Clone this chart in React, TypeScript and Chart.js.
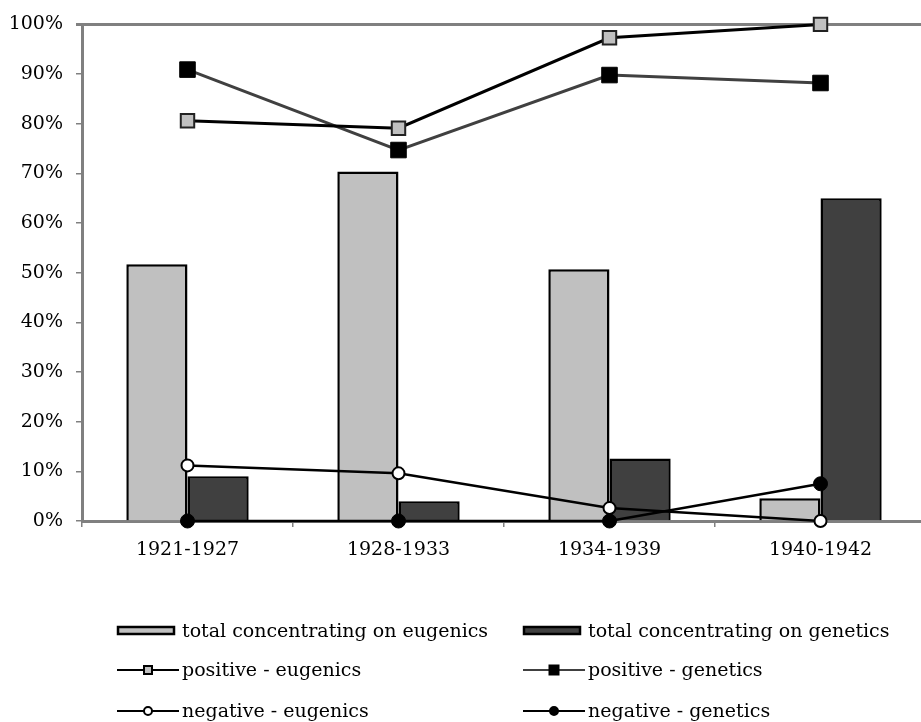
import React, { useEffect, useRef } from "react";
import { Chart, registerables } from "chart.js";

Chart.register(...registerables);

const categories = ["1921-1927", "1928-1933", "1934-1939", "1940-1942"];
const totalEugenics = [51.7, 70.4, 50.7, 4.6];
const totalGenetics = [9.0, 4.0, 12.6, 65.0];
const positiveEugenics = [80.6, 79.1, 97.3, 100];
const positiveGenetics = [90.9, 74.7, 89.8, 88.2];
const negativeEugenics = [11.2, 9.6, 2.6, 0];
const negativeGenetics = [0, 0, 0, 7.5];

const FONT = "'DejaVu Serif', serif";
const AXIS_GRAY = "#808080";
const LIGHT = "#C0C0C0";
const DARK = "#404040";

type LegendItem = {
  label: string;
  kind: "bar" | "line";
  fill: string;
  line?: string;
  marker?: "rect" | "circle";
  markerFill?: string;
  markerSize?: number;
  col: number;
  row: number;
};

const legendItems: LegendItem[] = [
  { label: "total concentrating on eugenics", kind: "bar", fill: LIGHT, col: 0, row: 0 },
  { label: "total concentrating on genetics", kind: "bar", fill: DARK, col: 1, row: 0 },
  { label: "positive - eugenics", kind: "line", fill: LIGHT, line: "#000", marker: "rect", markerFill: LIGHT, markerSize: 8, col: 0, row: 1 },
  { label: "positive - genetics", kind: "line", fill: "#000", line: DARK, marker: "rect", markerFill: "#000", markerSize: 9, col: 1, row: 1 },
  { label: "negative - eugenics", kind: "line", fill: "#fff", line: "#000", marker: "circle", markerFill: "#fff", markerSize: 4, col: 0, row: 2 },
  { label: "negative - genetics", kind: "line", fill: "#000", line: "#000", marker: "circle", markerFill: "#000", markerSize: 4, col: 1, row: 2 },
];

const legendPlugin = {
  id: "customLegend",
  afterDraw(chart: any) {
    const ctx = chart.ctx as CanvasRenderingContext2D;
    const colX = [117, 523];
    const rowY = [631, 670, 711];
    ctx.save();
    ctx.font = `19px ${FONT}`;
    ctx.textBaseline = "middle";
    ctx.textAlign = "left";
    for (const it of legendItems) {
      const x0 = colX[it.col];
      const y = rowY[it.row];
      if (it.kind === "bar") {
        ctx.fillStyle = it.fill;
        ctx.strokeStyle = "#000";
        ctx.lineWidth = 2.5;
        ctx.fillRect(x0 + 1, y - 4, 56, 7);
        ctx.strokeRect(x0 + 1, y - 4, 56, 7);
      } else {
        ctx.strokeStyle = it.line!;
        ctx.lineWidth = 2;
        ctx.beginPath();
        ctx.moveTo(x0, y);
        ctx.lineTo(x0 + 62, y);
        ctx.stroke();
        const cx = x0 + 31;
        ctx.fillStyle = it.markerFill!;
        ctx.strokeStyle = "#000";
        ctx.lineWidth = 2;
        if (it.marker === "rect") {
          const s = it.markerSize!;
          ctx.fillRect(cx - s / 2, y - s / 2, s, s);
          ctx.strokeRect(cx - s / 2, y - s / 2, s, s);
        } else {
          ctx.beginPath();
          ctx.arc(cx, y, it.markerSize!, 0, Math.PI * 2);
          ctx.fill();
          ctx.stroke();
        }
      }
      ctx.fillStyle = "#000";
      ctx.fillText(it.label, x0 + 65, y + 1);
    }
    ctx.restore();
  },
};

export default function App() {
  const ref = useRef<HTMLCanvasElement | null>(null);

  useEffect(() => {
    if (!ref.current) return;
    const chart = new Chart(ref.current, {
      type: "bar",
      data: {
        labels: categories,
        datasets: [
          {
            type: "bar",
            label: "total concentrating on eugenics",
            data: totalEugenics,
            backgroundColor: LIGHT,
            borderColor: "#000",
            borderWidth: 2.5,
            barPercentage: 1,
            categoryPercentage: 0.58,
            order: 2,
          },
          {
            type: "bar",
            label: "total concentrating on genetics",
            data: totalGenetics,
            backgroundColor: DARK,
            borderColor: "#000",
            borderWidth: 2.5,
            barPercentage: 1,
            categoryPercentage: 0.58,
            order: 2,
          },
          {
            type: "line",
            label: "positive - eugenics",
            data: positiveEugenics,
            borderColor: "#000",
            borderWidth: 3,
            pointStyle: "rect",
            pointRadius: 9.5,
            pointBackgroundColor: LIGHT,
            pointBorderColor: "#222",
            pointBorderWidth: 2,
            tension: 0,
            clip: false,
            order: 1,
          },
          {
            type: "line",
            label: "positive - genetics",
            data: positiveGenetics,
            borderColor: DARK,
            borderWidth: 3,
            pointStyle: "rect",
            pointRadius: 11,
            pointBackgroundColor: "#000",
            pointBorderColor: "#000",
            pointBorderWidth: 1,
            tension: 0,
            clip: false,
            order: 1,
          },
          {
            type: "line",
            label: "negative - eugenics",
            data: negativeEugenics,
            borderColor: "#000",
            borderWidth: 2.5,
            pointStyle: "circle",
            pointRadius: 6,
            pointBackgroundColor: "#fff",
            pointBorderColor: "#000",
            pointBorderWidth: 2,
            tension: 0,
            clip: false,
            order: 0,
          },
          {
            type: "line",
            label: "negative - genetics",
            data: negativeGenetics,
            borderColor: "#000",
            borderWidth: 2.5,
            pointStyle: "circle",
            pointRadius: 7,
            pointBackgroundColor: "#000",
            pointBorderColor: "#000",
            pointBorderWidth: 1,
            tension: 0,
            clip: false,
            order: 0,
          },
        ],
      },
      options: {
        responsive: false,
        animation: false,
        layout: { padding: { top: 21, right: 4, left: 0, bottom: 0 } },
        plugins: {
          legend: { display: false },
          tooltip: { enabled: false },
        },
        scales: {
          x: {
            grid: {
              offset: true,
              drawOnChartArea: false,
              drawTicks: true,
              tickLength: 6,
              color: AXIS_GRAY,
              lineWidth: 1.5,
            },
            border: { color: AXIS_GRAY, width: 3 },
            ticks: {
              color: "#000",
              font: { family: FONT, size: 19 },
              padding: 12,
            },
            afterFit(scale: any) {
              scale.height = 201;
            },
          },
          y: {
            min: 0,
            max: 100,
            grid: {
              drawOnChartArea: true,
              drawTicks: true,
              tickLength: 6,
              color: (c: any) => (c.tick && c.tick.value === 100 ? AXIS_GRAY : "rgba(0,0,0,0)"),
              tickColor: AXIS_GRAY,
              lineWidth: (c: any) => (c.tick && c.tick.value === 100 ? 3 : 1.5),
            },
            border: { color: AXIS_GRAY, width: 3 },
            ticks: {
              stepSize: 10,
              color: "#000",
              font: { family: FONT, size: 19 },
              padding: 13,
              callback: (v: any) => `${v}%`,
            },
            afterFit(scale: any) {
              scale.width = 82;
            },
          },
        },
      },
      plugins: [legendPlugin],
    });
    return () => chart.destroy();
  }, []);

  return (
    <div
      style={{
        position: "fixed",
        left: 0,
        top: 0,
        width: 921,
        height: 722,
        overflow: "hidden",
        background: "#fff",
      }}
    >
      <canvas ref={ref} width={938} height={722} style={{ display: "block" }} />
    </div>
  );
}
